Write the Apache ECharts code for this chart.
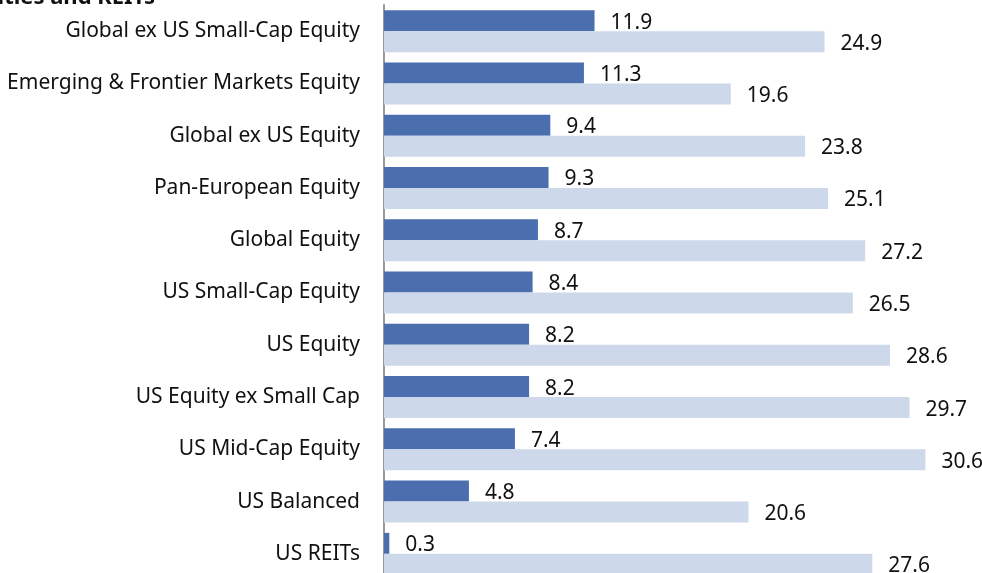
<!DOCTYPE html>
<html>
<head>
<meta charset="utf-8">
<script src="https://cdn.jsdelivr.net/npm/echarts@6/dist/echarts.min.js"></script>
<style>
  html, body { margin: 0; padding: 0; background: #fff; }
  #main { width: 982px; height: 573px; }
</style>
</head>
<body>
<div id="main"></div>
<script>
// categories, top to bottom
var categories = [
  'Global ex US Small-Cap Equity',
  'Emerging & Frontier Markets Equity',
  'Global ex US Equity',
  'Pan-European Equity',
  'Global Equity',
  'US Small-Cap Equity',
  'US Equity',
  'US Equity ex Small Cap',
  'US Mid-Cap Equity',
  'US Balanced',
  'US REITs'
];
var darkValues = [11.9, 11.3, 9.4, 9.3, 8.7, 8.4, 8.2, 8.2, 7.4, 4.8, 0.3];
var lightValues = [24.9, 19.6, 23.8, 25.1, 27.2, 26.5, 28.6, 29.7, 30.6, 20.6, 27.6];

var fontName = '"Noto Sans", sans-serif';
var chart = echarts.init(document.getElementById('main'));

var labelStyle = {
  show: true,
  position: 'right',
  distance: 16,
  offset: [0, 2],
  color: '#111',
  fontSize: 21,
  fontFamily: fontName,
  formatter: function (p) { return p.value.toFixed(1); }
};

var option = {
  animation: false,
  graphic: [{
    type: 'text',
    right: 827,
    top: -13,
    style: {
      text: 'Equities and REITs',
      font: 'bold 22px ' + fontName,
      fill: '#111'
    }
  }],
  grid: {
    left: 384, right: 0, top: 5, bottom: -7,
    containLabel: false,
    outerBoundsMode: 'none'
  },
  xAxis: {
    type: 'value',
    min: 0,
    max: 33.8,
    show: false
  },
  yAxis: {
    type: 'category',
    data: categories,
    inverse: true,
    axisLine: { show: true, lineStyle: { color: '#9a9a9a', width: 2 } },
    axisTick: { show: false },
    axisLabel: {
      margin: 24,
      padding: [3, 0, 0, 0],
      color: '#111',
      fontSize: 21,
      fontFamily: fontName
    }
  },
  series: [
    {
      type: 'bar',
      data: darkValues,
      barWidth: 21,
      barGap: '0%',
      itemStyle: { color: '#4b6eae' },
      label: labelStyle
    },
    {
      type: 'bar',
      data: lightValues,
      barWidth: 21,
      itemStyle: { color: '#cdd8ea' },
      label: labelStyle
    }
  ]
};
chart.setOption(option);
</script>
</body>
</html>
